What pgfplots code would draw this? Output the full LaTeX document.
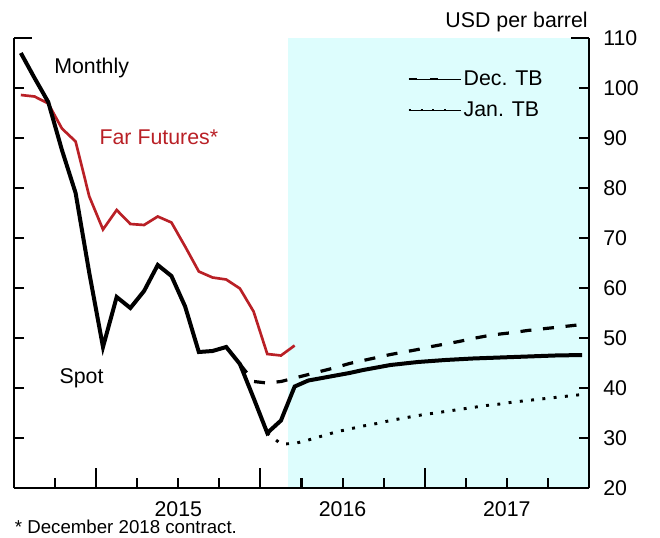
\documentclass[border=0pt]{standalone}
\usepackage{fontspec}
\setmainfont{Liberation Sans}
\usepackage{pgfplots}
\pgfplotsset{compat=1.18}
\definecolor{ffred}{RGB}{185,32,38}
\definecolor{shade}{RGB}{221,253,253}
\newcommand{\chfont}{\fontsize{16}{19}\selectfont}
\begin{document}
\begin{tikzpicture}
\path[use as bounding box] (-10.5pt,-36.75pt) rectangle (484.5pt,366pt);
\begin{axis}[
  at={(0pt,0pt)}, anchor=south west,
  scale only axis, width=431.25pt, height=337.5pt,
  xmin=0, xmax=42, ymin=20, ymax=110,
  axis x line*=bottom,
  axis y line*=box,
  axis on top,
  axis line style={line width=1.5pt},
  tick align=inside,
  major tick length=7.5pt,
  tick style={draw=black, line width=1.5pt},
  xtick={3,6,...,39},
  xticklabels={,,,2015,,,,2016,,,,2017,},
  ytick={20,30,...,110},
  ytick pos=both,
  yticklabel pos=right,
  ticklabel style={font=\chfont},
  /pgf/number format/assume math mode=true,
  xticklabel style={anchor=base, inner sep=0pt, yshift=-21pt},
  yticklabel style={anchor=west, inner sep=0pt, xshift=10.5pt},
  legend style={at={(axis cs:28.74,104.0)}, anchor=north west, draw=none, fill=none,
    font=\chfont, inner sep=0pt, row sep=6.75pt},
  legend cell align=left,
]
\addlegendimage{legend image code/.code={\draw[black, line width=1.5pt, dash pattern=on 6pt off 10pt] (0pt,0pt) -- (22pt,0pt); \path (0pt,0pt) -- (39pt,0pt);}}
\addlegendentry{Dec. TB}
\addlegendimage{legend image code/.code={\draw[black, line width=1.5pt, dash pattern=on 1.5pt off 7.4pt] (0pt,0pt) -- (28.5pt,0pt); \path (0pt,0pt) -- (39pt,0pt);}}
\addlegendentry{Jan. TB}

\addplot[fill=shade, draw=none, forget plot] coordinates {(20,20) (42,20) (42,110) (20,110)} -- cycle;

% Far futures (December 2018 contract)
\addplot[ffred, line width=2pt, forget plot] coordinates {
(0.5,98.6) (1.5,98.3) (2.5,96.9) (3.5,91.9) (4.5,89.3) (5.5,78.3) (6.5,71.7)
(7.5,75.6) (8.5,72.8) (9.5,72.6) (10.5,74.3) (11.5,73.1) (12.5,68.3) (13.5,63.3)
(14.5,62.1) (15.5,61.7) (16.5,59.9) (17.5,55.3) (18.5,46.8) (19.5,46.5) (20.5,48.5)};

% Dec. TB
\addplot[black, line width=2.4pt, dash pattern=on 8.25pt off 8.75pt, forget plot] coordinates {
(16.5,44.8) (17.5,41.3) (18.5,41.0) (19.5,41.3) (20.5,42.0) (21.5,42.7) (22.5,43.4)
(23.5,44.1) (24.5,44.9) (25.5,45.5) (26.5,46.1) (27.5,46.7) (28.5,47.2) (29.5,47.7)
(30.5,48.3) (31.5,48.8) (32.5,49.3) (33.5,49.9) (34.5,50.4) (35.5,50.8) (36.5,51.1)
(37.5,51.5) (38.5,51.8) (39.5,52.1) (40.5,52.4) (41.5,52.7)};

% Jan. TB
\addplot[black, line width=2.2pt, dash pattern=on 2.2pt off 6.3pt, forget plot] coordinates {
(18.5,31.0) (19.5,28.8) (20.5,28.9) (21.5,29.6) (22.5,30.4) (23.5,31.2) (24.5,31.8)
(25.5,32.4) (26.5,32.9) (27.5,33.5) (28.5,34.0) (29.5,34.5) (30.5,34.9) (31.5,35.3)
(32.5,35.7) (33.5,36.1) (34.5,36.5) (35.5,36.8) (36.5,37.2) (37.5,37.5) (38.5,37.8)
(39.5,38.1) (40.5,38.4) (41.5,38.7)};

% Spot, monthly
\addplot[black, line width=3pt, forget plot] coordinates {
(0.5,107) (1.5,102) (2.5,97.2) (3.5,87.6) (4.5,79) (5.5,63) (6.5,48.2) (7.5,58.2)
(8.5,56) (9.5,59.4) (10.5,64.6) (11.5,62.4) (12.5,56.3) (13.5,47.2) (14.5,47.4)
(15.5,48.2) (16.5,44.8) (17.5,38) (18.5,31) (19.5,33.5) (20.5,40.3) (21.5,41.5)
(22.5,42.0) (23.5,42.5) (24.5,43.0) (25.5,43.6) (26.5,44.1) (27.5,44.6) (28.5,44.9)
(29.5,45.2) (30.5,45.4) (31.5,45.6) (32.5,45.75) (33.5,45.9) (34.5,46.0) (35.5,46.1)
(36.5,46.2) (37.5,46.3) (38.5,46.4) (39.5,46.5) (40.5,46.55) (41.5,46.6)};
\end{axis}
% tick marks as filled bars (axis box is 431.25pt x 337.5pt at the origin)
\foreach \m in {3,9,12,15,21,24,27,33,36,39}
  \fill[black] ({\m*10.26786pt-0.8pt},0pt) rectangle ++(1.6pt,7.5pt);
\foreach \m in {6,18,30}
  \fill[black] ({\m*10.26786pt-0.8pt},0pt) rectangle ++(1.6pt,15pt);
\foreach \v in {30,40,50,60,70,80,90,100}{
  \fill[black] (0pt,{(\v-20)*3.75pt-0.8pt}) rectangle ++(7.5pt,1.6pt);
  \fill[black] (431.25pt,{(\v-20)*3.75pt-0.8pt}) rectangle ++(-7.5pt,1.6pt);
}
\fill[black] (0pt,336.7pt) rectangle ++(13.5pt,1.6pt);
\fill[black] (431.25pt,336.7pt) rectangle ++(-13.5pt,1.6pt);

\node[anchor=base west, inner sep=0pt, font=\chfont] at (30pt,311pt) {Monthly};
\node[anchor=base west, inner sep=0pt, font=\chfont, text=ffred] at (64pt,258pt) {Far Futures*};
\node[anchor=base west, inner sep=0pt, font=\chfont] at (34pt,78.75pt) {Spot};
\node[anchor=base east, inner sep=0pt, font=\chfont] at (430.5pt,345.75pt) {USD per barrel};
\node[anchor=base west, inner sep=0pt, font=\fontsize{14}{17}\selectfont] at (0.5pt,-33.75pt) {* December 2018 contract.};
\end{tikzpicture}
\end{document}
